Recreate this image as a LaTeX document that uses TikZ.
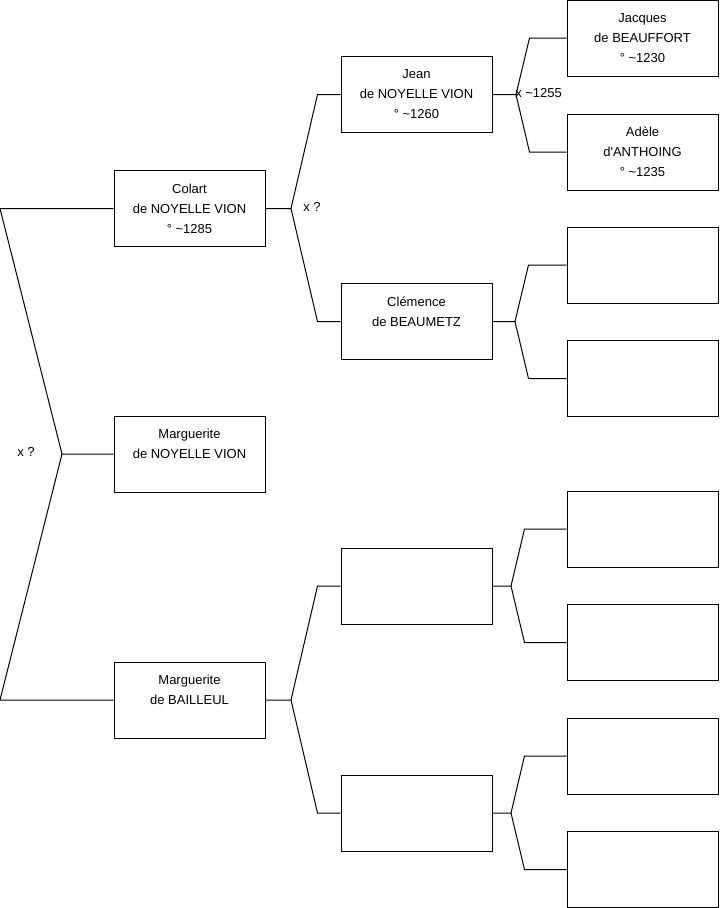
\documentclass[tikz,border=0pt]{standalone}
\usepackage{fontspec}
\setmainfont{Liberation Sans}[Ligatures=TeXOff]

\begin{document}
\begin{tikzpicture}[x=0.75pt,y=-0.75pt,
    person/.style={draw,line width=0.75pt,minimum width=113.25pt,minimum height=57pt,
        align=center,inner sep=0pt,font=\fontsize{9.75}{15}\selectfont},
    link/.style={line width=0.75pt},
    union/.style={inner sep=0pt,font=\fontsize{9.75}{15}\selectfont}]
    \useasboundingbox (0,0) rectangle (719,908);
    % generation 1
    \node[person] (colart) at (189.5,208.5) {Colart\\de NOYELLE VION\\° \textasciitilde1285};
    \node[person] (margNV) at (189.5,454) {Marguerite\\de NOYELLE VION\\\mbox{}};
    \node[person] (bailleul) at (189.5,700) {Marguerite\\de BAILLEUL\\\mbox{}};
    % generation 2
    \node[person] (jean) at (416.5,94.5) {Jean\\de NOYELLE VION\\° \textasciitilde1260};
    \node[person] (clemence) at (416.5,321.5) {Clémence\\de BEAUMETZ\\\mbox{}};
    \node[person] (bailPere) at (416.5,586) {};
    \node[person] (bailMere) at (416.5,813) {};
    % generation 3
    \node[person] (jacques) at (642.5,38) {Jacques\\de BEAUFFORT\\° \textasciitilde1230};
    \node[person] (adele) at (642.5,152) {Adèle\\d'ANTHOING\\° \textasciitilde1235};
    \node[person] (clemPere) at (642.5,265) {};
    \node[person] (clemMere) at (642.5,378.5) {};
    \node[person] (bailPP) at (642.5,529) {};
    \node[person] (bailPM) at (642.5,642.5) {};
    \node[person] (bailMP) at (642.5,756) {};
    \node[person] (bailMM) at (642.5,869.5) {};
    % forks
    \coordinate (tColart) at (0,208.5);
    \coordinate (tBailleul) at (0,700);
    \coordinate (fMain) at (62,454);
    \coordinate (fColart) at (291,208.5);
    \coordinate (fBailleul) at (291,700);
    \coordinate (fJean) at (516,94.5);
    \coordinate (fClem) at (515,321.5);
    \coordinate (fBailPere) at (511,586);
    \coordinate (fBailMere) at (511,813);
    % unions
    \node[union] (uMain) at (26,452) {x ?};
    \node[union] (uColart) at (312,207) {x ?};
    \node[union,anchor=west] (uJean) at (515,93) {x \textasciitilde1255};
    % links
    \draw[link] (colart.west) -- (tColart) -- (fMain) -- (margNV.west);
    \draw[link] (bailleul.west) -- (tBailleul) -- (fMain);
    \draw[link] (jean.west) -- ++(-23,0) -- (fColart) -- (colart.east);
    \draw[link] (clemence.west) -- ++(-23,0) -- (fColart);
    \draw[link] (bailPere.west) -- ++(-23,0) -- (fBailleul) -- (bailleul.east);
    \draw[link] (bailMere.west) -- ++(-23,0) -- (fBailleul);
    \draw[link] (jacques.west) -- ++(-37,0) -- (fJean) -- (jean.east);
    \draw[link] (adele.west) -- ++(-37,0) -- (fJean);
    \draw[link] (clemPere.west) -- ++(-38,0) -- (fClem) -- (clemence.east);
    \draw[link] (clemMere.west) -- ++(-38,0) -- (fClem);
    \draw[link] (bailPP.west) -- ++(-42,0) -- (fBailPere) -- (bailPere.east);
    \draw[link] (bailPM.west) -- ++(-42,0) -- (fBailPere);
    \draw[link] (bailMP.west) -- ++(-42,0) -- (fBailMere) -- (bailMere.east);
    \draw[link] (bailMM.west) -- ++(-42,0) -- (fBailMere);
\end{tikzpicture}
\end{document}
